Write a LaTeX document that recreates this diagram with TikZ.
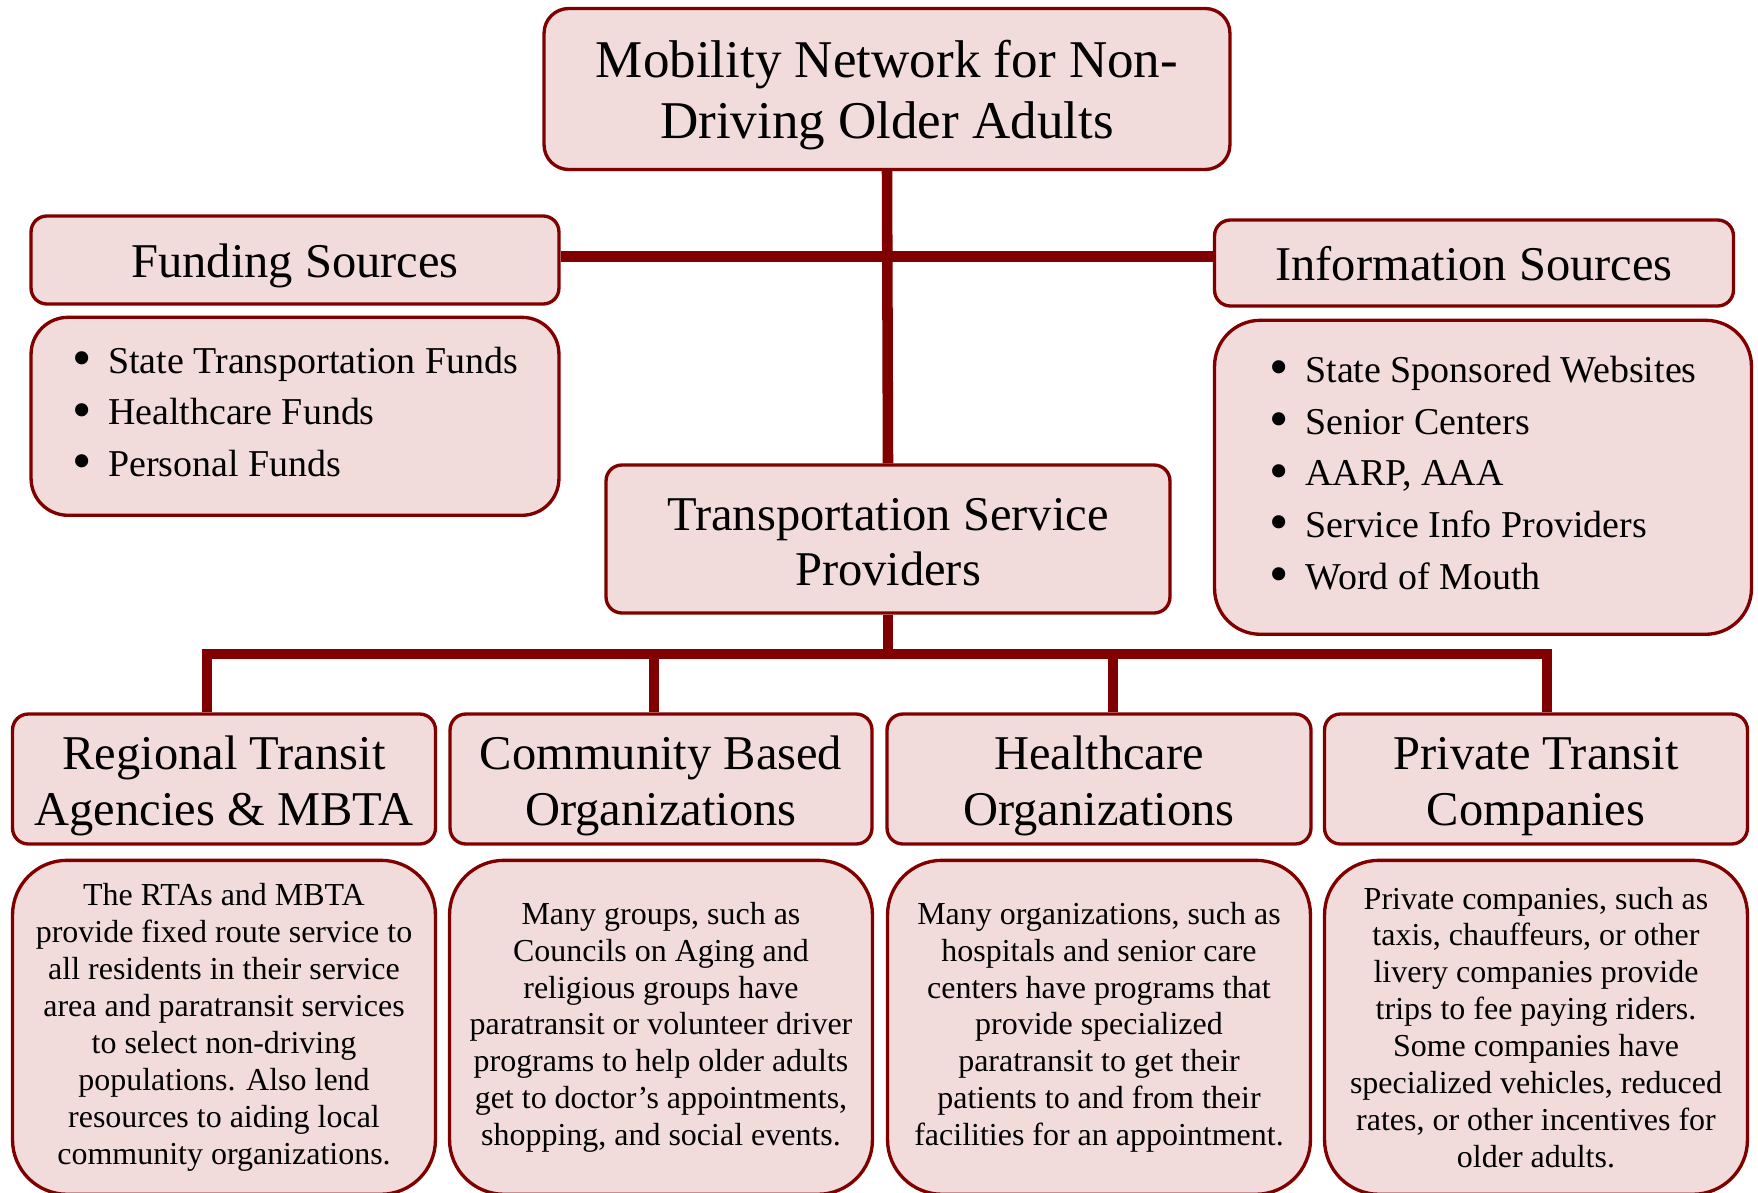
\documentclass[tikz,border=0pt]{standalone}
\usepackage{fontspec}
\setmainfont{Liberation Serif}
\usepackage{graphicx}
\usepackage{tikz}
\usetikzlibrary{positioning}
\definecolor{boxred}{RGB}{128,0,0}
\definecolor{boxpink}{RGB}{242,220,219}
\newcommand{\bul}{\makebox[0.72cm][l]{\raisebox{-0.08em}{\scalebox{1.45}{\textbullet}}}}
% push the lines of a box a little down (top strut) or up (bottom strut)
\newcommand{\dn}[1]{\rule{0pt}{\dimexpr\fontcharht\font`\l+#1\relax}}
\newcommand{\upp}[1]{\rule[-#1]{0pt}{0pt}}

\begin{document}
\begin{tikzpicture}[
        x=0.02cm, y=-0.02cm,
        box/.style={rectangle, draw=boxred, fill=boxpink, line width=1.9pt, align=center, inner sep=2pt},
        topbox/.style={box, rounded corners=14pt, font=\fontsize{30.2}{34.7}\selectfont},
        head/.style={box, rounded corners=9pt, font=\fontsize{27.6}{31.6}\selectfont},
        listbox/.style={box, align=left, font=\fontsize{21.6}{29.4}\selectfont},
        textbox/.style={box, rounded corners=31pt, minimum width=8.46cm, minimum height=6.68cm, font=\fontsize{18.2}{21}\selectfont},
        link/.style={draw=boxred, line width=6pt}
    ]
        \useasboundingbox (0,0) rectangle (1758,1193);

        % Top level
        \node[topbox, minimum width=13.72cm, minimum height=3.22cm] (title) at (887,89) {\dn{0.31cm}Mobility Network for Non-\\Driving Older Adults};

        % Funding and information
        \node[head, minimum width=10.56cm, minimum height=1.76cm] (fund) at (295,260) {\dn{0.27cm}Funding Sources};
        \node[listbox, rounded corners=21pt, minimum width=10.56cm, minimum height=3.96cm, below=0.2cm of fund] (fundlist) {\bul State Transportation Funds\\\bul Healthcare Funds\\\bul Personal Funds\upp{0.18cm}};
        \node[head, minimum width=10.38cm, minimum height=1.72cm] (info) at (1474,263) {\dn{0.09cm}Information Sources};
        \node[listbox, rounded corners=26pt, minimum width=10.74cm, minimum height=6.28cm, below=0.22cm of info, xshift=0.18cm] (infolist) {\bul State Sponsored Websites\\\bul Senior Centers\\\bul AARP, AAA\\\bul Service Info Providers\\\bul Word of Mouth\upp{0.18cm}};

        % Providers
        \node[head, minimum width=11.28cm, minimum height=2.96cm] (tsp) at (888,539) {\dn{0.14cm}Transportation Service\\Providers};
        \coordinate (bus) at (888,654);

        \node[head, minimum width=8.46cm, minimum height=2.6cm] (rta) at (224,779) {\dn{0.31cm}Regional Transit\\Agencies \& MBTA};
        \node[head, minimum width=8.44cm, minimum height=2.6cm] (cbo) at (661,779) {\dn{0.31cm}Community Based\\Organizations};
        \node[head, minimum width=8.48cm, minimum height=2.6cm] (hco) at (1099,779) {\dn{0.31cm}Healthcare\\Organizations};
        \node[head, minimum width=8.46cm, minimum height=2.6cm] (ptc) at (1536,779) {\dn{0.31cm}Private Transit\\Companies};

        \node[textbox, below=0.26cm of rta] (rtatext) {The RTAs and MBTA\\provide fixed route service to\\all residents in their service\\area and paratransit services\\to select non-driving\\populations. Also lend\\resources to aiding local\\community organizations.};
        \node[textbox, below=0.26cm of cbo] (cbotext) {Many groups, such as\\Councils on Aging and\\religious groups have\\paratransit or volunteer driver\\programs to help older adults\\get to doctor's appointments,\\shopping, and social events.};
        \node[textbox, below=0.26cm of hco] (hcotext) {Many organizations, such as\\hospitals and senior care\\centers have programs that\\provide specialized\\paratransit to get their\\patients to and from their\\facilities for an appointment.};
        \node[textbox, below=0.26cm of ptc] (ptctext) {Private companies, such as\\taxis, chauffeurs, or other\\livery companies provide\\trips to fee paying riders.\\Some companies have\\specialized vehicles, reduced\\rates, or other incentives for\\older adults.};

        % Connectors
        \draw[link] (title.south) -- (tsp.north);
        \draw[link] ([yshift=0.07cm]fund.east) -- ([yshift=0.07cm]fund.east -| info.west);
        \draw[link] (tsp.south) -- (bus);
        \draw[link] ([xshift=-0.34cm]rta.north) |- (bus) -| ([xshift=0.22cm]ptc.north);
        \draw[link] ([xshift=-0.14cm]cbo.north) -- ([xshift=-0.14cm]cbo.north |- bus);
        \draw[link] ([xshift=0.28cm]hco.north) -- ([xshift=0.28cm]hco.north |- bus);

    \end{tikzpicture}
\end{document}
